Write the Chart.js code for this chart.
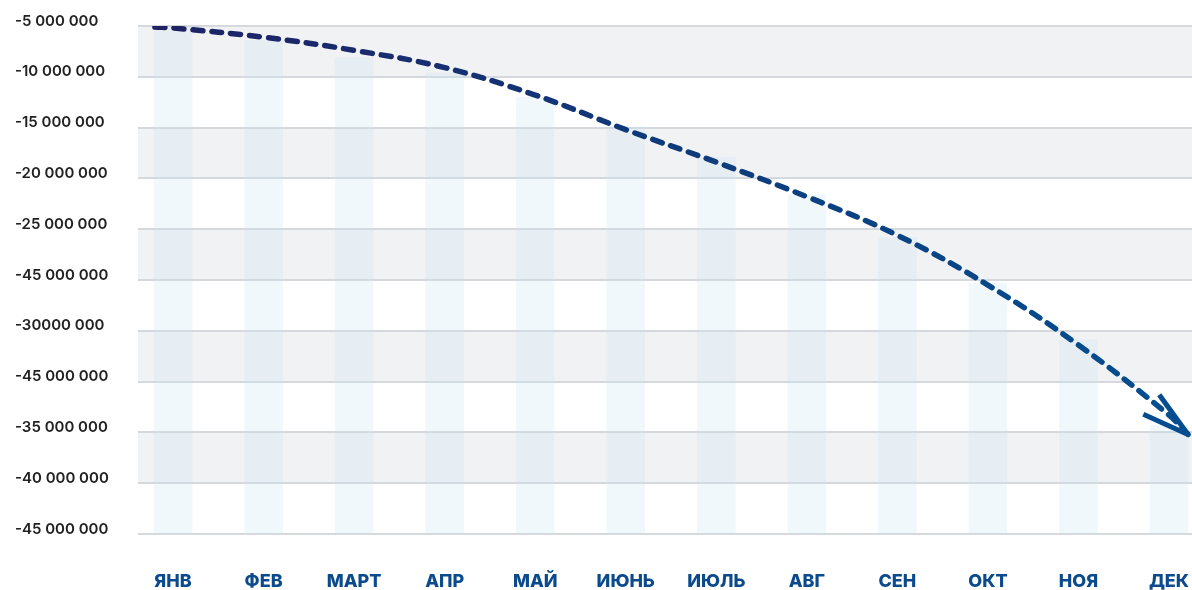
<!DOCTYPE html>
<html>
<head>
<meta charset="utf-8">
<script src="https://cdn.jsdelivr.net/npm/chart.js"></script>
<style>
    html, body { margin: 0; padding: 0; background: #fff; }
    #wrap { width: 1192px; height: 590px; position: relative; }
</style>
</head>
<body>
<div id="wrap"><canvas id="grafico"></canvas></div>
<script>
// подписи месяцев
const meses = ["ЯНВ", "ФЕВ", "МАРТ", "АПР", "МАЙ", "ИЮНЬ", "ИЮЛЬ", "АВГ", "СЕН", "ОКТ", "НОЯ", "ДЕК"];

// подписи оси Y (как на картинке)
const rotulosY = ["-5 000 000", "-10 000 000", "-15 000 000", "-20 000 000", "-25 000 000",
    "-45 000 000", "-30000 000", "-45 000 000", "-35 000 000", "-40 000 000", "-45 000 000"];

// верх столбиков, млн
const topoBarras = [-5.0, -6.4, -8.1, -9.6, -12.0, -14.9, -17.9, -21.6, -25.8, -30.3, -35.9, -44.3];
const baseBarras = -55;

// пунктирная линия тренда, млн
const linhaX = [-0.2, 0, 1, 2, 3, 4, 5, 6, 7, 8, 9, 10, 11, 11.21];
const linhaY = [-5.1, -5.2, -6.1, -7.4, -9.1, -11.8, -15.2, -18.4, -21.8, -25.6, -30.5, -36.4, -43.3, -45.2];

const M = 1000000;

const faixas = {
    id: "faixas",
    beforeDraw(chart) {
        const { ctx, chartArea } = chart;
        const y = chart.scales.y;
        ctx.save();
        ctx.fillStyle = "#f1f2f4";
        for (let i = 0; i < rotulosY.length - 1; i += 2) {
            const y1 = y.getPixelForValue(-5 * M - i * 5 * M);
            const y2 = y.getPixelForValue(-5 * M - (i + 1) * 5 * M);
            ctx.fillRect(chartArea.left, y1, chartArea.right - chartArea.left, y2 - y1);
        }
        ctx.restore();
    }
};

// наконечник стрелки в конце линии
const seta = {
    id: "seta",
    afterDatasetsDraw(chart) {
        const pts = chart.getDatasetMeta(1).data;
        const a = pts[pts.length - 2], b = pts[pts.length - 1];
        const ang = Math.atan2(b.y - a.y, b.x - a.x);
        const len = 49;
        const { ctx } = chart;
        ctx.save();
        ctx.strokeStyle = "#064d8f";
        ctx.lineWidth = 5;
        ctx.lineCap = "butt";
        [0.15, -0.37].forEach(d => {
            ctx.beginPath();
            ctx.moveTo(b.x, b.y);
            ctx.lineTo(b.x - len * Math.cos(ang + d), b.y - len * Math.sin(ang + d));
            ctx.stroke();
        });
        ctx.restore();
    }
};

const ctx = document.getElementById("grafico");

new Chart(ctx, {
    data: {
        datasets: [{
            type: "bar",
            data: topoBarras.map((v, i) => ({ x: i, y: [v * M, baseBarras * M] })),
            backgroundColor: "rgba(200, 230, 245, 0.28)",
            borderWidth: 0,
            borderSkipped: false,
            barThickness: 38,
            order: 2
        }, {
            type: "line",
            data: linhaX.map((x, i) => ({ x: x, y: linhaY[i] * M })),
            borderColor: c => {
                const area = c.chart.chartArea;
                if (!area) return "#1e2264";
                const g = c.chart.ctx.createLinearGradient(area.left, 0, area.right, 0);
                g.addColorStop(0, "#1f2164");
                g.addColorStop(0.5, "#0f3a7a");
                g.addColorStop(1, "#044f90");
                return g;
            },
            borderWidth: 5.5,
            borderDash: [10, 9],
            borderCapStyle: "round",
            pointRadius: 0,
            tension: 0.4,
            fill: false,
            order: 1
        }]
    },
    options: {
        responsive: true,
        maintainAspectRatio: false,
        animation: false,
        layout: { padding: { top: 26, left: 15, right: 0, bottom: 0 } },
        plugins: { legend: { display: false }, tooltip: { enabled: false } },
        scales: {
            x: {
                type: "linear",
                offset: false,
                min: -0.387,
                max: 11.254,
                afterBuildTicks: ax => { ax.ticks = meses.map((m, i) => ({ value: i })); },
                afterFit: ax => { ax.height = 56; ax.paddingRight = 0; ax.paddingLeft = 0; },
                grid: { display: false, drawTicks: false, offset: false },
                border: { display: false },
                ticks: {
                    autoSkip: false,
                    maxRotation: 0,
                    padding: 37,
                    color: "#0b4b8d",
                    font: { family: "Inter", size: 18, weight: "800" },
                    callback: v => meses[v] ?? ""
                }
            },
            y: {
                min: -55 * M,
                max: -5 * M,
                afterBuildTicks: ax => { ax.ticks = rotulosY.map((r, i) => ({ value: -5 * M - i * 5 * M })); },
                afterFit: ax => { ax.width = 123; },
                grid: { color: "#d5d8dc", lineWidth: 2, drawTicks: false },
                border: { display: false },
                ticks: {
                    crossAlign: "far",
                    padding: 0,
                    labelOffset: -5,
                    color: "#222",
                    font: { family: "Inter", size: 15, weight: "600" },
                    callback: (v, i) => rotulosY[i]
                }
            }
        }
    },
    plugins: [faixas, seta]
});
</script>
</body>
</html>
